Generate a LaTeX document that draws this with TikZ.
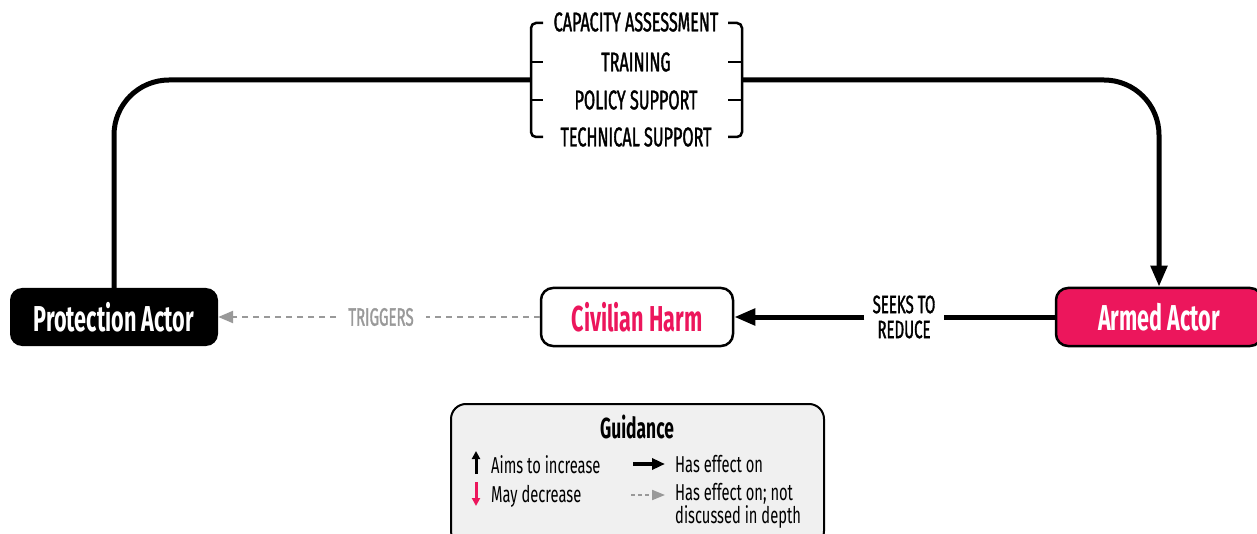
\documentclass[tikz,border=0pt]{standalone}
\usepackage{fontspec}
\usetikzlibrary{arrows.meta}
\newfontfamily\bigcond[FakeStretch=0.6]{Fira Sans}
\newfontfamily\capcond[FakeStretch=0.6, FakeBold=1.3]{Fira Sans}
\newfontfamily\smallcond[FakeStretch=0.64]{Fira Sans}
\definecolor{crimson}{HTML}{EC165C}
\definecolor{triggergray}{HTML}{999999}
\definecolor{legendfill}{HTML}{F0F0F0}
\tikzset{
  actor/.style={rounded corners=12pt, minimum height=58pt, inner sep=0pt,
    font=\bigcond\bfseries\fontsize{36}{36}\selectfont},
  mainline/.style={line width=5pt},
  bigtip/.style={-{Triangle[length=21pt,width=16pt]}},
  dashline/.style={line width=2.5pt, triggergray, dash pattern=on 6pt off 5pt},
  graytip/.style={-{Triangle[length=15pt,width=12pt]}},
  bracketline/.style={line width=2.5pt, rounded corners=5pt},
  itemlabel/.style={font=\capcond\fontsize{27}{27}\selectfont, inner sep=0pt},
  edgelabel/.style={font=\capcond\fontsize{25}{25}\selectfont, align=center},
  legendtext/.style={font=\smallcond\fontsize{23}{20}\selectfont, anchor=west, inner sep=0pt, align=left},
}
\begin{document}
\begin{tikzpicture}[x=1pt, y=-1pt]
  \useasboundingbox (0,0) rectangle (1257,534);
  \clip (0,0) rectangle (1257,534);

  % actors
  \node[actor, fill=black, text=white, minimum width=208pt] (pa) at (114,317) {Protection Actor};
  \node[actor, draw=black, line width=2.5pt, fill=white, text=crimson, minimum width=192pt] (ch) at (637,317) {Civilian Harm};
  \node[actor, draw=black, line width=2.5pt, fill=crimson, text=white, minimum width=206pt] (aa) at (1159,317) {Armed Actor};

  % support items
  \node[itemlabel] (cap) at (636,22) {CAPACITY ASSESSMENT};
  \node[itemlabel] (trn) at (636,62) {TRAINING};
  \node[itemlabel] (pol) at (636,100) {POLICY SUPPORT};
  \node[itemlabel] (tec) at (636,137) {TECHNICAL SUPPORT};

  % brackets around the items
  \draw[bracketline] (543,23) -- (531,23) -- (531,137) -- (543,137);
  \draw[line width=2.5pt] (531,62) -- (543,62) (531,100) -- (543,100);
  \draw[bracketline] (728,23) -- (742,23) -- (742,137) -- (728,137);
  \draw[line width=2.5pt] (742,62) -- (728,62) (742,100) -- (728,100);
  \coordinate (bl) at (531,80);
  \coordinate (br) at (742,80);

  % loop over the top
  \draw[mainline, rounded corners=55pt] (pa.north) |- (bl);
  \draw[mainline, rounded corners=55pt, bigtip] (br) -| (aa.north);

  % bottom row
  \node[edgelabel, inner xsep=8pt] (seek) at (904,317) {SEEKS TO\\REDUCE};
  \draw[mainline] (aa.west) -- (seek.east);
  \draw[mainline, bigtip] (seek.west) -- (ch.east);

  \node[edgelabel, text=triggergray, inner xsep=12pt] (trig) at (381,317) {TRIGGERS};
  \draw[dashline] (ch.west) -- (trig.east);
  \draw[dashline, graytip] (trig.west) -- (pa.east);

  % legend
  \node[draw=black, line width=2pt, fill=legendfill, rounded corners=15pt,
        minimum width=373pt, minimum height=142pt, anchor=north west] (leg) at (450,403) {};
  \node[font=\bigcond\bfseries\fontsize{29}{29}\selectfont] (legtitle) at (637,427) {Guidance};
  \coordinate (upA) at (476,474);
  \coordinate (upB) at (476,451);
  \draw[line width=3pt, -{Triangle[length=8pt,width=8pt]}] (upA) -- (upB);
  \coordinate (dnA) at (476,482);
  \coordinate (dnB) at (476,506);
  \draw[line width=3pt, crimson, -{Triangle[length=8pt,width=8pt]}] (dnA) -- (dnB);
  \node[legendtext] (aims) at (491,465) {Aims to increase};
  \node[legendtext] (may) at (491,496) {May decrease};
  \coordinate (efA) at (633,464);
  \coordinate (efB) at (665,464);
  \draw[line width=4pt, -{Triangle[length=13pt,width=11pt]}] (efA) -- (efB);
  \coordinate (ndA) at (631,495);
  \coordinate (ndB) at (665,495);
  \draw[line width=2pt, triggergray, dash pattern=on 4pt off 3pt, -{Triangle[length=13pt,width=10pt]}] (ndA) -- (ndB);
  \node[legendtext] (eff) at (675,464) {Has effect on};
  \node[legendtext] (effnd) at (675,506) {Has effect on; not\\discussed in depth};
\end{tikzpicture}
\end{document}
